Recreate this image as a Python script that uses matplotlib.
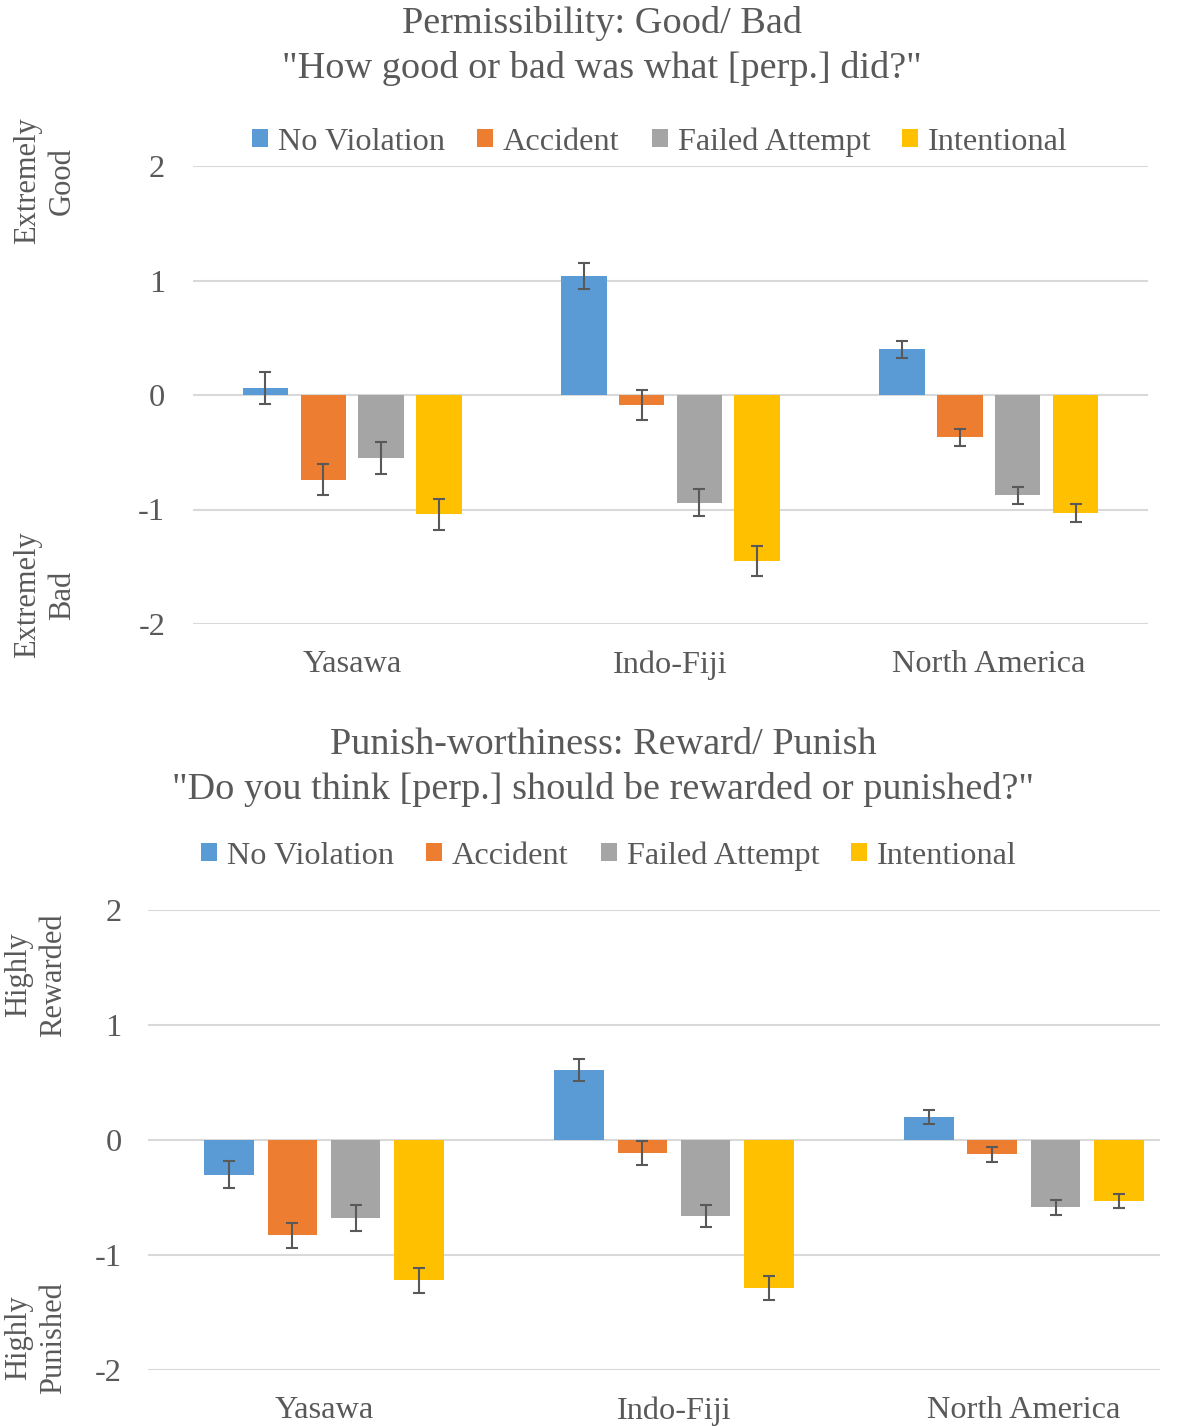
import numpy as np
import matplotlib.pyplot as plt
from matplotlib.patches import Patch

plt.rcParams['font.family'] = ['Liberation Serif', 'DejaVu Serif']

groups = ["Yasawa", "Indo-Fiji", "North America"]
conditions = ["No Violation", "Accident", "Failed Attempt", "Intentional"]
colors = ["#5B9BD5", "#ED7D31", "#A5A5A5", "#FFC000"]

# permissibility (good / bad), rows = condition, cols = site
perm_mean = [[0.06, 1.04, 0.40],
             [-0.74, -0.09, -0.37],
             [-0.55, -0.94, -0.875],
             [-1.04, -1.45, -1.03]]
perm_err = [[0.14, 0.115, 0.075],
            [0.135, 0.13, 0.075],
            [0.14, 0.115, 0.075],
            [0.135, 0.13, 0.075]]

# punish-worthiness (reward / punish)
pun_mean = [[-0.30, 0.61, 0.20],
            [-0.83, -0.115, -0.125],
            [-0.68, -0.66, -0.585],
            [-1.22, -1.29, -0.53]]
pun_err = [[0.12, 0.095, 0.065],
           [0.11, 0.105, 0.065],
           [0.115, 0.095, 0.065],
           [0.11, 0.105, 0.063]]

W, H = 1191, 1426
txt = "#595959"
fig = plt.figure(figsize=(W / 100, H / 100), dpi=100)


def fx(px):
    return px / W


def fy(py):
    return 1 - py / H


def panel(rect, means, errs, width, step, xlim, ypad, xpad):
    ax = fig.add_axes(rect)
    x = np.arange(len(groups))
    for i in range(len(conditions)):
        ax.bar(x + (i - 1.5) * step, means[i], width, color=colors[i],
               yerr=errs[i], error_kw=dict(ecolor="#595959", elinewidth=1.5,
                                           capsize=4, capthick=1.5), zorder=2)
    ax.set_xlim(*xlim)
    ax.set_ylim(-2, 2)
    ax.set_yticks([-2, -1, 0, 1, 2])
    ax.set_yticklabels(["-2", "-1", "0", "1", "2"])
    ax.set_xticks(x)
    ax.set_xticklabels(groups)
    ax.grid(axis="y", color="#D9D9D9", linewidth=1.5, zorder=0)
    ax.set_axisbelow(True)
    for s in ax.spines.values():
        s.set_visible(False)
    ax.tick_params(axis="both", length=0, labelsize=23.3, colors=txt)
    ax.tick_params(axis="y", pad=ypad)
    ax.tick_params(axis="x", pad=xpad)
    return ax


panel([fx(193), fy(624), fx(1148 - 193), (624 - 166) / H],
      perm_mean, perm_err, 0.143, 0.1816, (-0.5, 2.5), 20, 19)
panel([fx(148), fy(1370), fx(1160 - 148), (1370 - 910) / H],
      pun_mean, pun_err, 0.1414, 0.181, (-0.503, 2.389), 19, 19)

fig.text(fx(602), fy(46), 'Permissibility: Good/ Bad\n"How good or bad was what [perp.] did?"',
         ha="center", va="center", fontsize=27.5, color=txt, linespacing=1.36)
fig.text(fx(603), fy(767), 'Punish-worthiness: Reward/ Punish\n"Do you think [perp.] should be rewarded or punished?"',
         ha="center", va="center", fontsize=27.5, color=txt, linespacing=1.36)

handles = [Patch(facecolor=c, edgecolor="none") for c in colors]
for cx, cy in [(660, 142), (609, 856)]:
    fig.legend(handles, conditions, loc="center", bbox_to_anchor=(fx(cx), fy(cy)),
               ncol=4, frameon=False, fontsize=23.2, labelcolor=txt,
               handlelength=0.5, handleheight=0.5, handletextpad=0.3,
               columnspacing=1.0)

side = [("Extremely\nGood", 45, 181), ("Extremely\nBad", 45, 595),
        ("Highly\nRewarded", 36, 975), ("Highly\nPunished", 36, 1338)]
for s, px, py in side:
    fig.text(fx(px), fy(py), s, rotation=90, ha="center", va="center",
             multialignment="center", fontsize=22, color=txt, linespacing=1.25)

fig.savefig("out.png", dpi=100, facecolor="white")
